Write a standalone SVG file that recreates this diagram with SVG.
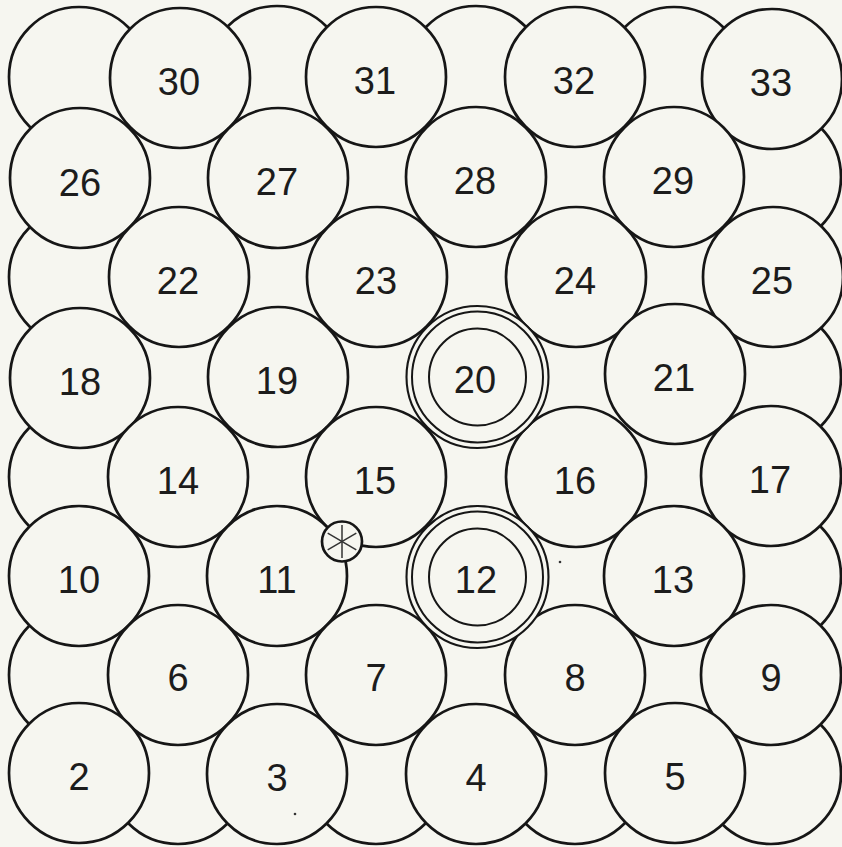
<svg xmlns="http://www.w3.org/2000/svg" width="842" height="847" viewBox="0 0 842 847">
<style>
.bg{fill:#f6f6f0;}
.c{fill:#f6f6f0;stroke:#161616;stroke-width:2.7;}
.r{fill:none;stroke:#161616;stroke-width:2;}
.t{font-family:"Liberation Sans",Arial,sans-serif;font-size:38px;fill:#1c1c1c;text-anchor:middle;}
.sp{stroke:#333;stroke-width:1.5;}
</style>
<rect class="bg" x="0" y="0" width="842" height="847"/>
<g id="background-circles">
<circle class="c" cx="79" cy="77" r="70"/>
<circle class="c" cx="277" cy="76" r="70"/>
<circle class="c" cx="476" cy="76" r="70"/>
<circle class="c" cx="674" cy="77" r="70"/>
<circle class="c" cx="771" cy="177" r="70"/>
<circle class="c" cx="771" cy="377" r="70"/>
<circle class="c" cx="771" cy="576" r="70"/>
<circle class="c" cx="771" cy="774" r="70"/>
<circle class="c" cx="79" cy="277" r="70"/>
<circle class="c" cx="79" cy="477" r="70"/>
<circle class="c" cx="79" cy="675" r="70"/>
<circle class="c" cx="178" cy="774" r="70"/>
<circle class="c" cx="376" cy="774" r="70"/>
<circle class="c" cx="575" cy="774" r="70"/>
</g>
<g id="n30"><circle class="c" cx="180" cy="78" r="70"/><text class="t" x="179" y="95">30</text></g>
<g id="n31"><circle class="c" cx="376" cy="77" r="70"/><text class="t" x="375" y="94">31</text></g>
<g id="n32"><circle class="c" cx="575" cy="77" r="70"/><text class="t" x="574" y="94">32</text></g>
<g id="n33"><circle class="c" cx="772" cy="79" r="70"/><text class="t" x="771" y="96">33</text></g>
<g id="n26"><circle class="c" cx="80" cy="178" r="70"/><text class="t" x="80" y="196">26</text></g>
<g id="n27"><circle class="c" cx="278" cy="178" r="70"/><text class="t" x="277" y="195">27</text></g>
<g id="n28"><circle class="c" cx="476" cy="177" r="70"/><text class="t" x="475" y="194">28</text></g>
<g id="n29"><circle class="c" cx="674" cy="177" r="70"/><text class="t" x="673" y="194">29</text></g>
<g id="n22"><circle class="c" cx="179" cy="277" r="70"/><text class="t" x="178" y="294">22</text></g>
<g id="n23"><circle class="c" cx="377" cy="277" r="70"/><text class="t" x="376" y="294">23</text></g>
<g id="n24"><circle class="c" cx="576" cy="277" r="70"/><text class="t" x="575" y="294">24</text></g>
<g id="n25"><circle class="c" cx="773" cy="277" r="70"/><text class="t" x="772" y="294">25</text></g>
<g id="n18"><circle class="c" cx="80" cy="378" r="70"/><text class="t" x="80" y="395">18</text></g>
<g id="n19"><circle class="c" cx="278" cy="377" r="70"/><text class="t" x="277" y="394">19</text></g>
<g id="n21"><circle class="c" cx="675" cy="374" r="70"/><text class="t" x="674" y="391">21</text></g>
<g id="n14"><circle class="c" cx="178" cy="477" r="70"/><text class="t" x="178" y="494">14</text></g>
<g id="n15"><circle class="c" cx="376" cy="477" r="70"/><text class="t" x="375" y="494">15</text></g>
<g id="n16"><circle class="c" cx="576" cy="477" r="70"/><text class="t" x="575" y="494">16</text></g>
<g id="n17"><circle class="c" cx="771" cy="476" r="70"/><text class="t" x="770" y="493">17</text></g>
<g id="n10"><circle class="c" cx="79" cy="576" r="70"/><text class="t" x="79" y="593">10</text></g>
<g id="n11"><circle class="c" cx="277" cy="576" r="70"/><text class="t" x="277" y="593">11</text></g>
<g id="n13"><circle class="c" cx="674" cy="576" r="70"/><text class="t" x="673" y="593">13</text></g>
<g id="n6"><circle class="c" cx="178" cy="675" r="70"/><text class="t" x="178" y="691">6</text></g>
<g id="n7"><circle class="c" cx="376" cy="675" r="70"/><text class="t" x="376" y="691">7</text></g>
<g id="n8"><circle class="c" cx="575" cy="675" r="70"/><text class="t" x="575" y="691">8</text></g>
<g id="n9"><circle class="c" cx="771" cy="675" r="70"/><text class="t" x="771" y="691">9</text></g>
<g id="n2"><circle class="c" cx="79" cy="773" r="70"/><text class="t" x="79" y="790">2</text></g>
<g id="n3"><circle class="c" cx="277" cy="774" r="70"/><text class="t" x="277" y="791">3</text></g>
<g id="n4"><circle class="c" cx="476" cy="774" r="70"/><text class="t" x="476" y="791">4</text></g>
<g id="n5"><circle class="c" cx="675" cy="773" r="70"/><text class="t" x="675" y="790">5</text></g>
<g id="n20">
<circle class="c" cx="477.5" cy="377" r="71" style="stroke-width:2.1"/>
<circle class="r" cx="477.5" cy="377" r="65.5"/>
<circle class="r" cx="477.5" cy="377" r="48.5"/>
<text class="t" x="475" y="393">20</text>
</g>
<g id="n12">
<circle class="c" cx="477.5" cy="577" r="71" style="stroke-width:2.1"/>
<circle class="r" cx="477.5" cy="577" r="65.5"/>
<circle class="r" cx="477.5" cy="577" r="48.5"/>
<text class="t" x="476" y="593">12</text>
</g>
<g id="marker">
<circle class="c" cx="342" cy="541.5" r="20"/>
<line class="sp" x1="342" y1="525" x2="342" y2="558"/>
<line class="sp" x1="327.7" y1="533.2" x2="356.3" y2="549.8"/>
<line class="sp" x1="327.7" y1="549.8" x2="356.3" y2="533.2"/>
</g>
<circle cx="560" cy="562" r="1.3" fill="#333"/>
<circle cx="295" cy="814" r="1.3" fill="#333"/>
</svg>
